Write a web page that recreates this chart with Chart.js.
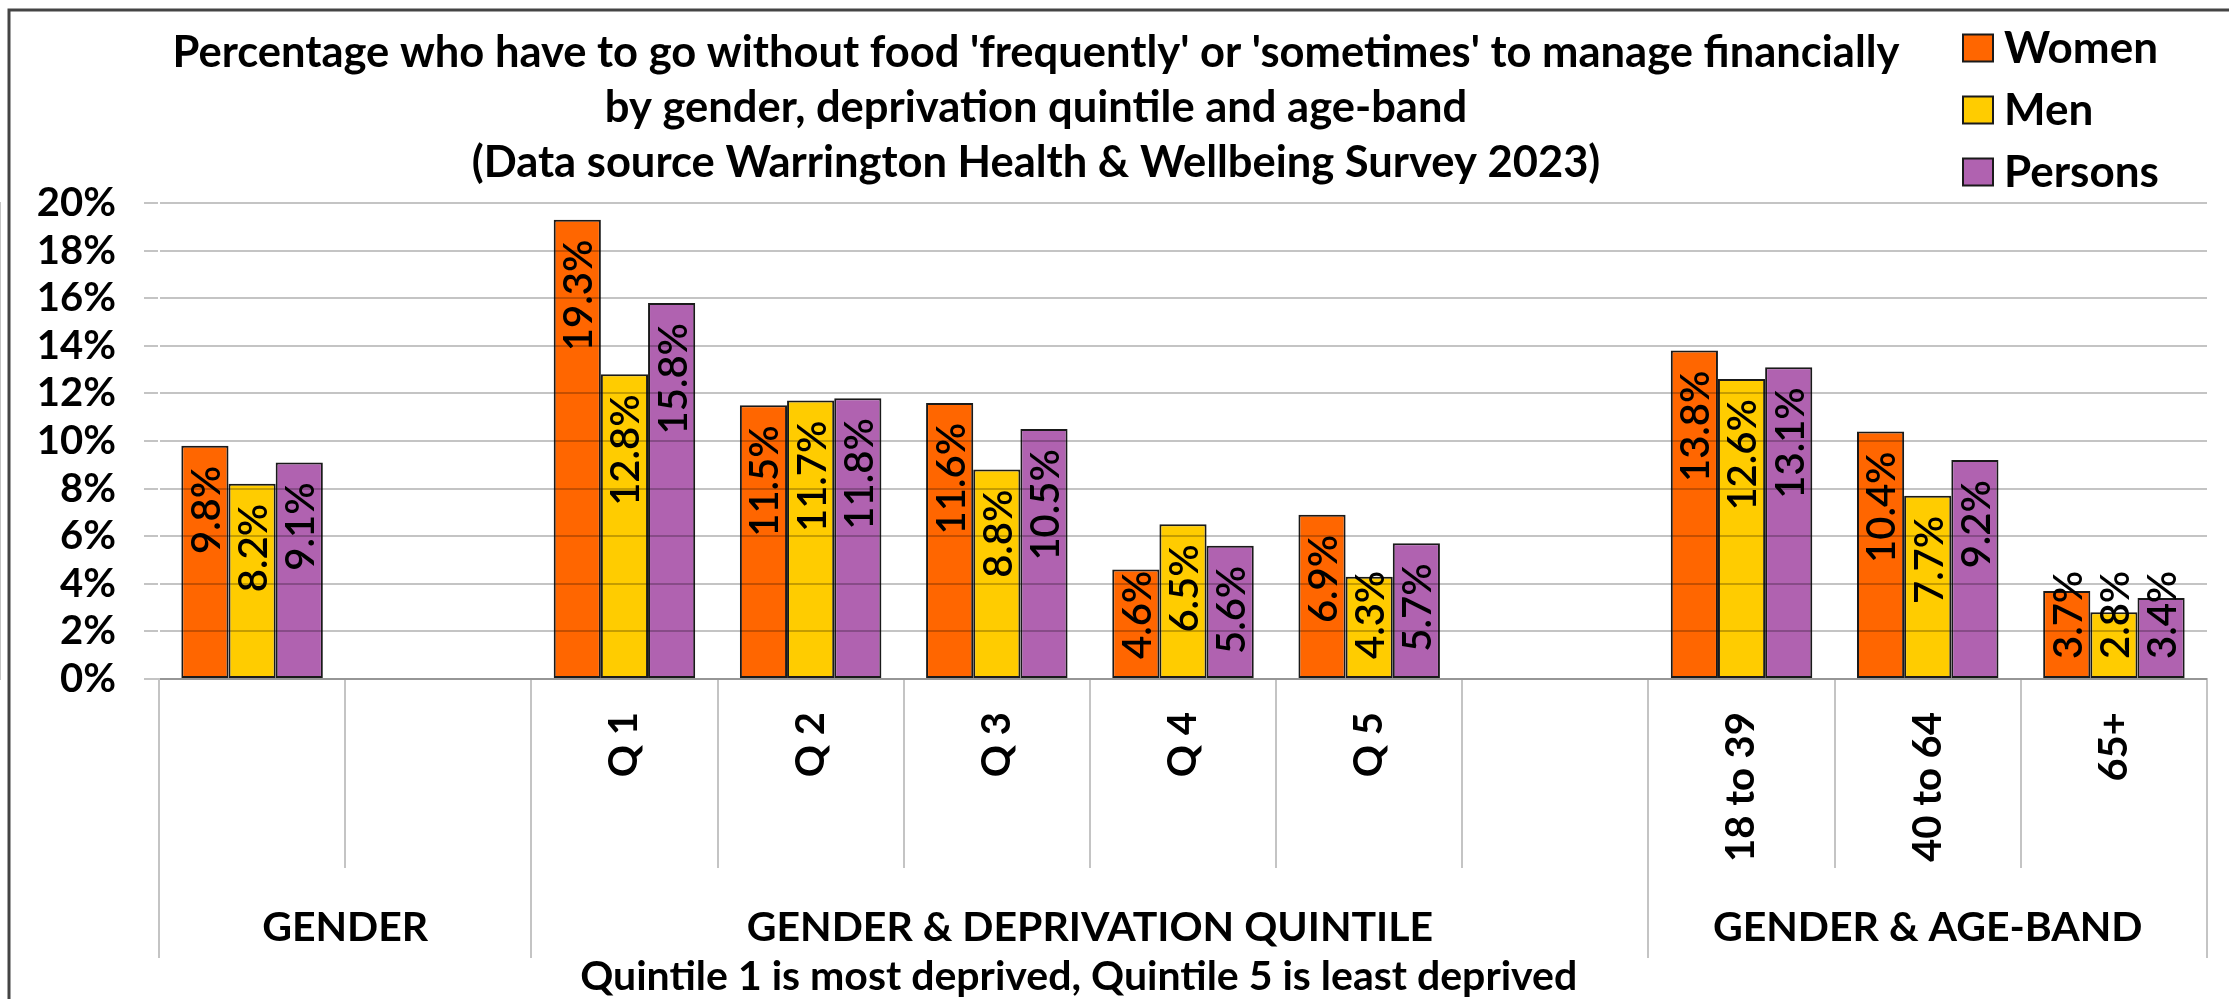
<!DOCTYPE html>
<html>
<head>
<meta charset="utf-8">
<script src="https://cdn.jsdelivr.net/npm/chart.js@4.4.1/dist/chart.umd.min.js"></script>
<style>
  html, body { margin: 0; padding: 0; background: #fff; }
  canvas { display: block; }
</style>
</head>
<body>
<canvas id="chart" width="2229" height="999"></canvas>
<script>
// ---------- DATA ----------
const categories = ["", "", "Q 1", "Q 2", "Q 3", "Q 4", "Q 5", "", "18 to 39", "40 to 64", "65+"];
const women   = [9.8, null, 19.3, 11.5, 11.6, 4.6, 6.9, null, 13.8, 10.4, 3.7];
const men     = [8.2, null, 12.8, 11.7, 8.8, 6.5, 4.3, null, 12.6, 7.7, 2.8];
const persons = [9.1, null, 15.8, 11.8, 10.5, 5.6, 5.7, null, 13.1, 9.2, 3.4];

const seriesNames  = ["Women", "Men", "Persons"];
const seriesColors = ["#FF6600", "#FFCC00", "#B062B0"];

const groupLabels = ["GENDER", "GENDER & DEPRIVATION QUINTILE", "GENDER & AGE-BAND"];
const groupStart  = [0, 2, 8];
const groupEnd    = [2, 8, 11];

const titleLines = [
  "Percentage who have to go without food 'frequently' or 'sometimes' to manage financially",
  "by gender, deprivation quintile and age-band",
  "(Data source Warrington Health & Wellbeing Survey 2023)"
];
const footNote = "Quintile 1 is most deprived, Quintile 5 is least deprived";

const FONT = "Lato";
const GRID = "#c4c4c4";

// ---------- OVERLAY (title, legend, groups, value labels) ----------
const overlay = {
  id: "overlay",
  afterDraw(chart) {
    const ctx = chart.ctx;
    const xs = chart.scales.x;
    const slot = xs.width / categories.length;
    ctx.save();

    // outer frame
    ctx.strokeStyle = "#444";
    ctx.lineWidth = 3;
    ctx.beginPath();
    ctx.moveTo(9, 999); ctx.lineTo(9, 10); ctx.lineTo(2229, 10);
    ctx.stroke();

    // title
    ctx.fillStyle = "#000";
    ctx.textAlign = "center";
    ctx.textBaseline = "middle";
    ctx.font = `bold 43.5px ${FONT}`;
    titleLines.forEach((t, i) => ctx.fillText(t, 1036, 53 + i * 55));

    // legend
    ctx.textAlign = "left";
    ctx.font = `bold 44px ${FONT}`;
    seriesNames.forEach((name, i) => {
      const y = 48 + i * 62;
      ctx.fillStyle = seriesColors[i];
      ctx.fillRect(1963, y - 13.5, 30, 27);
      ctx.strokeStyle = "#1a1a1a";
      ctx.lineWidth = 2;
      ctx.strokeRect(1963, y - 13.5, 30, 27);
      ctx.fillStyle = "#000";
      ctx.fillText(name, 2004, y + 1);
    });

    // longer divider lines between groups
    ctx.strokeStyle = GRID;
    ctx.lineWidth = 2;
    const edges = new Set(groupStart.concat(groupEnd));
    edges.forEach(b => {
      const x = Math.round(xs.left + b * slot);
      ctx.beginPath();
      ctx.moveTo(x, xs.top + 189);
      ctx.lineTo(x, xs.top + 279);
      ctx.stroke();
    });

    // group labels
    ctx.fillStyle = "#000";
    ctx.textAlign = "center";
    ctx.font = `bold 41px ${FONT}`;
    groupLabels.forEach((g, i) => {
      const cx = xs.left + (groupStart[i] + groupEnd[i]) / 2 * slot;
      ctx.fillText(g, cx, 928);
    });
    ctx.font = `bold 41px ${FONT}`;
    ctx.fillText(footNote, xs.left + 4.94 * slot, 977);

    // value labels, rotated, inside end of each bar
    ctx.font = `600 40px ${FONT}`;
    chart.data.datasets.forEach((ds, di) => {
      const meta = chart.getDatasetMeta(di);
      meta.data.forEach((bar, i) => {
        const v = ds.data[i];
        if (v == null) return;
        const txt = v.toFixed(1) + "%";
        const len = ctx.measureText(txt).width;
        const top = Math.min(bar.y + 20, bar.base - 19 - len);
        ctx.save();
        ctx.translate(bar.x, top + len / 2);
        ctx.rotate(-Math.PI / 2);
        ctx.textAlign = "center";
        ctx.textBaseline = "middle";
        ctx.fillStyle = "#000";
        ctx.fillText(txt, 0, 2);
        ctx.restore();
      });
    });

    ctx.restore();
  }
};

// ---------- CHART ----------
function draw() {
  new Chart(document.getElementById("chart"), {
    type: "bar",
    data: {
      labels: categories,
      datasets: [
        { label: seriesNames[0], data: women,   backgroundColor: seriesColors[0] },
        { label: seriesNames[1], data: men,     backgroundColor: seriesColors[1] },
        { label: seriesNames[2], data: persons, backgroundColor: seriesColors[2] }
      ]
    },
    options: {
      responsive: false,
      animation: false,
      devicePixelRatio: 1,
      layout: { padding: { top: 203, right: 22, left: 0, bottom: 0 } },
      datasets: {
        bar: {
          categoryPercentage: 0.76,
          barPercentage: 1.0,
          borderColor: "#1a1a1a",
          borderWidth: 2,
          borderSkipped: false
        }
      },
      plugins: {
        legend: { display: false },
        title: { display: false },
        tooltip: { enabled: false }
      },
      scales: {
        x: {
          offset: true,
          grid: {
            offset: true,
            drawOnChartArea: false,
            drawTicks: true,
            tickLength: 189,
            color: GRID,
            lineWidth: 2
          },
          border: { display: true, color: GRID, width: 2 },
          ticks: {
            autoSkip: false,
            minRotation: 90,
            maxRotation: 90,
            padding: -156,
            color: "#000",
            font: { family: FONT, size: 40, weight: "bold" }
          },
          afterFit(scale) { scale.height = 320; }
        },
        y: {
          min: 0,
          max: 20,
          grid: {
            color: "rgba(0,0,0,0.23)",
            lineWidth: 2,
            tickLength: 15,
            z: 1
          },
          border: { display: true, color: GRID, width: 2 },
          ticks: {
            stepSize: 2,
            autoSkip: false,
            padding: 28,
            color: "#000",
            font: { family: FONT, size: 40, weight: "bold" },
            callback: v => v + "%"
          },
          afterFit(scale) { scale.width = 159; }
        }
      }
    },
    plugins: [overlay]
  });
}

Promise.all([
  document.fonts.load(`bold 40px ${FONT}`),
  document.fonts.load(`40px ${FONT}`)
]).then(draw, draw);
</script>
</body>
</html>
